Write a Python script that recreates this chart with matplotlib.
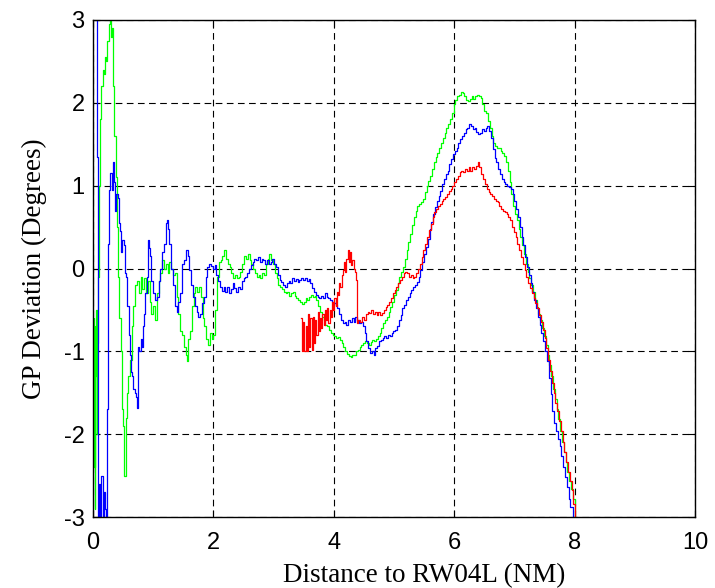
import matplotlib
matplotlib.use("Agg")
import matplotlib.pyplot as plt

# ---------------- data ----------------
green_x = [0.00, 0.01, 0.02, 0.025, 0.03, 0.04, 0.05, 0.06, 0.07, 0.08, 0.10, 0.12, 0.14, 0.16, 0.18,
           0.20, 0.22, 0.24, 0.26, 0.28, 0.30, 0.32, 0.33, 0.35, 0.38, 0.40, 0.42, 0.44, 0.46, 0.48,
           0.50, 0.52, 0.54, 0.56, 0.58, 0.61, 0.64, 0.67, 0.70, 0.73, 0.76, 0.79, 0.82, 0.85, 0.88,
           0.91, 0.94, 0.97, 1.00, 1.03, 1.06, 1.09, 1.12, 1.15, 1.18, 1.21, 1.24, 1.27, 1.30, 1.33,
           1.36, 1.39, 1.42, 1.45, 1.48, 1.51, 1.54, 1.56, 1.58, 1.61, 1.64, 1.67, 1.70, 1.73, 1.76,
           1.79, 1.82, 1.85, 1.88, 1.91, 1.94, 1.97, 2.00, 2.03, 2.06, 2.09, 2.12, 2.15, 2.18, 2.21,
           2.24, 2.27, 2.30, 2.33, 2.36, 2.39, 2.42, 2.45, 2.48, 2.51, 2.54, 2.57, 2.60, 2.63, 2.66,
           2.69, 2.72, 2.75, 2.78, 2.81, 2.84, 2.87, 2.90, 2.93, 2.96, 2.99, 3.02, 3.05, 3.08, 3.11,
           3.14, 3.17, 3.20, 3.23, 3.26, 3.29, 3.32, 3.35, 3.38, 3.41, 3.44, 3.47, 3.50, 3.53, 3.56,
           3.59, 3.62, 3.65, 3.68, 3.71, 3.74, 3.77, 3.80, 3.83, 3.86, 3.89, 3.92, 3.95, 3.98, 4.01,
           4.04, 4.07, 4.10, 4.13, 4.16, 4.19, 4.22, 4.25, 4.28, 4.31, 4.34, 4.37, 4.40, 4.43, 4.46,
           4.49, 4.52, 4.55, 4.58, 4.61, 4.64, 4.67, 4.70, 4.73, 4.76, 4.79, 4.82, 4.85, 4.88, 4.91,
           4.94, 4.97, 5.00, 5.03, 5.06, 5.09, 5.12, 5.15, 5.18, 5.21, 5.24, 5.27, 5.30, 5.33, 5.36,
           5.39, 5.42, 5.45, 5.48, 5.51, 5.54, 5.57, 5.60, 5.63, 5.66, 5.69, 5.72, 5.75, 5.78, 5.81,
           5.84, 5.87, 5.90, 5.93, 5.96, 5.99, 6.02, 6.05, 6.08, 6.11, 6.14, 6.17, 6.20, 6.23, 6.26,
           6.29, 6.32, 6.35, 6.38, 6.41, 6.44, 6.47, 6.50, 6.53, 6.56, 6.59, 6.62, 6.65, 6.68, 6.71,
           6.74, 6.77, 6.80, 6.83, 6.86, 6.89, 6.92, 6.95, 6.98, 7.01, 7.04, 7.07, 7.10, 7.13, 7.16,
           7.19, 7.22, 7.25, 7.28, 7.31, 7.34, 7.37, 7.40, 7.43, 7.46, 7.49, 7.52, 7.55, 7.58, 7.61,
           7.64, 7.67, 7.70, 7.73, 7.76, 7.79, 7.82, 7.85, 7.88, 7.91, 7.94, 7.97, 8.00]
green_y = [-0.60, -1.20, -2.40, -0.70, -2.90, -1.30, -0.50, -2.00, -0.90, -0.10, 1.00, 1.80, 2.20, 2.40, 2.35,
           2.55, 2.50, 2.75, 2.95, 3.10, 2.80, 2.90, 2.20, 1.60, 1.10, 0.50, -0.10, -0.60, -1.00, -1.70,
           -1.90, -2.50, -1.80, -1.50, -1.30, -1.10, -0.70, -0.45, -0.20, -0.15, -0.30, -0.10, -0.25, -0.12, -0.30,
           -0.15, -0.40, -0.55, -0.45, -0.62, -0.30, -0.15, -0.05, 0.10, 0.00, 0.05, -0.05, 0.08, 0.00, -0.08,
           -0.05, -0.35, -0.55, -0.75, -0.80, -0.95, -1.05, -1.12, -0.85, -0.75, -0.45, -0.30, -0.22, -0.28, -0.22,
           -0.35, -0.60, -0.70, -0.85, -0.92, -0.78, -0.85, -0.80, -0.50, -0.10, 0.08, 0.10, 0.15, 0.22, 0.12,
           0.05, 0.02, -0.05, -0.12, -0.08, -0.12, -0.10, -0.04, 0.05, 0.15, 0.12, 0.18, 0.10, 0.05, 0.00,
           -0.05, -0.10, -0.08, -0.12, -0.05, -0.08, 0.05, 0.12, 0.18, 0.10, 0.05, -0.05, -0.12, -0.20, -0.22,
           -0.25, -0.28, -0.30, -0.28, -0.33, -0.30, -0.28, -0.33, -0.36, -0.38, -0.40, -0.43, -0.40, -0.36, -0.38,
           -0.34, -0.32, -0.35, -0.33, -0.38, -0.45, -0.52, -0.58, -0.62, -0.68, -0.70, -0.74, -0.78, -0.80, -0.82,
           -0.84, -0.83, -0.86, -0.90, -0.95, -1.00, -1.03, -1.06, -1.07, -1.04, -1.05, -1.00, -0.98, -0.95, -0.92,
           -0.90, -0.88, -0.90, -0.92, -0.89, -0.86, -0.88, -0.85, -0.82, -0.78, -0.72, -0.66, -0.62, -0.58, -0.52,
           -0.46, -0.40, -0.32, -0.26, -0.18, -0.10, -0.04, 0.02, 0.12, 0.22, 0.32, 0.42, 0.52, 0.62, 0.70,
           0.76, 0.78, 0.80, 0.84, 0.92, 1.00, 1.06, 1.12, 1.20, 1.28, 1.35, 1.40, 1.46, 1.52, 1.58,
           1.64, 1.70, 1.75, 1.80, 1.88, 1.98, 2.04, 2.08, 2.10, 2.13, 2.12, 2.08, 2.04, 2.02, 2.05,
           2.08, 2.05, 2.08, 2.10, 2.08, 2.06, 1.98, 1.90, 1.88, 1.78, 1.70, 1.60, 1.52, 1.48, 1.46,
           1.45, 1.42, 1.40, 1.36, 1.28, 1.18, 1.05, 0.90, 0.76, 0.66, 0.58, 0.48, 0.38, 0.28, 0.18,
           0.06, -0.04, -0.12, -0.20, -0.28, -0.38, -0.46, -0.55, -0.62, -0.72, -0.82, -0.92, -1.04, -1.16, -1.30,
           -1.45, -1.58, -1.70, -1.82, -1.96, -2.10, -2.22, -2.34, -2.46, -2.56, -2.66, -2.78, -3.00]

blue_x = [0.05, 0.06, 0.065, 0.075, 0.08, 0.10, 0.12, 0.14, 0.16, 0.18, 0.20, 0.22, 0.24, 0.25, 0.26,
          0.27, 0.29, 0.31, 0.33, 0.35, 0.37, 0.39, 0.41, 0.43, 0.45, 0.47, 0.49, 0.51, 0.53, 0.55,
          0.57, 0.59, 0.61, 0.63, 0.65, 0.67, 0.69, 0.71, 0.73, 0.75, 0.77, 0.79, 0.81, 0.83, 0.85,
          0.87, 0.89, 0.91, 0.93, 0.95, 0.97, 1.00, 1.03, 1.06, 1.09, 1.12, 1.15, 1.18, 1.21, 1.23,
          1.25, 1.27, 1.30, 1.33, 1.36, 1.39, 1.42, 1.45, 1.48, 1.51, 1.54, 1.57, 1.60, 1.63, 1.66,
          1.69, 1.72, 1.75, 1.78, 1.81, 1.84, 1.87, 1.90, 1.93, 1.96, 1.99, 2.02, 2.05, 2.08, 2.11,
          2.14, 2.17, 2.20, 2.23, 2.26, 2.29, 2.32, 2.35, 2.38, 2.41, 2.44, 2.47, 2.50, 2.53, 2.56,
          2.59, 2.62, 2.65, 2.68, 2.71, 2.74, 2.77, 2.80, 2.83, 2.86, 2.89, 2.92, 2.95, 2.98, 3.01,
          3.04, 3.07, 3.10, 3.13, 3.16, 3.19, 3.22, 3.25, 3.28, 3.31, 3.34, 3.37, 3.40, 3.43, 3.46,
          3.49, 3.52, 3.55, 3.58, 3.61, 3.64, 3.67, 3.70, 3.73, 3.76, 3.79, 3.82, 3.85, 3.88, 3.91,
          3.94, 3.97, 4.00, 4.03, 4.06, 4.09, 4.12, 4.15, 4.18, 4.21, 4.24, 4.27, 4.30, 4.33, 4.36,
          4.39, 4.42, 4.45, 4.48, 4.51, 4.54, 4.57, 4.60, 4.63, 4.66, 4.69, 4.72, 4.75, 4.78, 4.81,
          4.84, 4.87, 4.90, 4.93, 4.96, 4.99, 5.02, 5.05, 5.08, 5.11, 5.14, 5.17, 5.20, 5.23, 5.26,
          5.29, 5.32, 5.35, 5.38, 5.41, 5.44, 5.47, 5.50, 5.53, 5.56, 5.59, 5.62, 5.65, 5.68, 5.71,
          5.74, 5.77, 5.80, 5.83, 5.86, 5.89, 5.92, 5.95, 5.98, 6.01, 6.04, 6.07, 6.10, 6.13, 6.16,
          6.19, 6.22, 6.25, 6.28, 6.31, 6.34, 6.37, 6.40, 6.43, 6.46, 6.49, 6.52, 6.55, 6.58, 6.61,
          6.64, 6.67, 6.70, 6.73, 6.76, 6.79, 6.82, 6.85, 6.88, 6.91, 6.94, 6.97, 7.00, 7.03, 7.06,
          7.09, 7.12, 7.15, 7.18, 7.21, 7.24, 7.27, 7.30, 7.33, 7.36, 7.39, 7.42, 7.45, 7.48, 7.51,
          7.54, 7.57, 7.60, 7.63, 7.66, 7.69, 7.72, 7.75, 7.78, 7.81, 7.84, 7.87, 7.90, 7.93, 7.97]
blue_y = [3.50, 3.50, 1.35, 1.15, -3.50, -2.60, -3.20, -2.50, -3.20, -2.70, -2.90, -3.20, -1.70, 0.30, 0.80,
          0.95, 1.15, 0.95, 1.28, 1.05, 0.70, 0.90, 0.85, 0.55, 0.45, 0.20, 0.35, 0.28, -0.05, -0.10,
          -0.45, -0.80, -1.05, -1.25, -1.30, -1.45, -1.50, -1.55, -1.68, -0.95, -1.00, -0.85, -0.95, -0.70, -0.55,
          -0.30, -0.10, 0.35, 0.25, 0.15, -0.15, -0.30, -0.38, -0.35, -0.15, 0.00, 0.20, 0.30, 0.55, 0.58,
          0.48, 0.30, 0.00, -0.20, -0.45, -0.52, -0.40, -0.30, 0.05, 0.10, 0.22, 0.15, -0.02, -0.20, -0.35,
          -0.45, -0.52, -0.58, -0.55, -0.42, -0.35, -0.10, 0.02, 0.06, 0.03, 0.00, 0.04, -0.08, -0.15, -0.22,
          -0.27, -0.22, -0.28, -0.22, -0.30, -0.25, -0.18, -0.24, -0.28, -0.22, -0.25, -0.15, -0.12, -0.10, -0.05,
          0.00, 0.04, 0.08, 0.12, 0.10, 0.14, 0.08, 0.12, 0.10, 0.06, 0.10, 0.05, 0.08, 0.12, 0.06,
          0.02, -0.08, -0.14, -0.16, -0.20, -0.22, -0.18, -0.15, -0.17, -0.12, -0.15, -0.13, -0.16, -0.14, -0.12,
          -0.14, -0.12, -0.15, -0.13, -0.18, -0.24, -0.28, -0.32, -0.34, -0.36, -0.33, -0.36, -0.30, -0.34, -0.36,
          -0.38, -0.40, -0.42, -0.44, -0.48, -0.55, -0.62, -0.66, -0.64, -0.68, -0.62, -0.64, -0.60, -0.64, -0.58,
          -0.62, -0.66, -0.64, -0.70, -0.78, -0.88, -0.96, -1.02, -1.00, -1.04, -0.96, -0.94, -0.88, -0.86, -0.84,
          -0.82, -0.84, -0.80, -0.82, -0.78, -0.76, -0.74, -0.70, -0.62, -0.56, -0.48, -0.44, -0.38, -0.34, -0.30,
          -0.26, -0.22, -0.20, -0.16, -0.10, -0.02, 0.08, 0.18, 0.26, 0.36, 0.48, 0.56, 0.66, 0.74, 0.82,
          0.88, 0.94, 1.02, 1.08, 1.14, 1.18, 1.26, 1.32, 1.38, 1.42, 1.46, 1.52, 1.56, 1.60, 1.64,
          1.68, 1.70, 1.75, 1.72, 1.68, 1.70, 1.65, 1.62, 1.64, 1.68, 1.66, 1.70, 1.72, 1.66, 1.58,
          1.44, 1.34, 1.28, 1.20, 1.14, 1.08, 1.05, 1.02, 1.00, 0.98, 0.96, 0.90, 0.82, 0.72, 0.62,
          0.50, 0.38, 0.28, 0.14, 0.02, -0.08, -0.18, -0.28, -0.38, -0.48, -0.58, -0.68, -0.78, -0.88, -1.00,
          -1.12, -1.32, -1.52, -1.72, -1.86, -1.96, -2.06, -2.14, -2.26, -2.40, -2.52, -2.64, -2.78, -2.88, -3.00]

red_x = [3.45, 3.47, 3.49, 3.51, 3.53, 3.55, 3.57, 3.59, 3.61, 3.63, 3.65, 3.67, 3.69, 3.71, 3.73,
         3.75, 3.77, 3.79, 3.81, 3.83, 3.85, 3.87, 3.89, 3.91, 3.93, 3.95, 3.97, 3.99, 4.01, 4.03,
         4.05, 4.07, 4.09, 4.11, 4.13, 4.15, 4.17, 4.19, 4.21, 4.23, 4.25, 4.27, 4.29, 4.31, 4.33,
         4.35, 4.37, 4.39, 4.41, 4.44, 4.47, 4.50, 4.53, 4.56, 4.59, 4.62, 4.65, 4.68, 4.71, 4.74,
         4.77, 4.80, 4.83, 4.86, 4.89, 4.92, 4.95, 4.98, 5.01, 5.04, 5.07, 5.10, 5.13, 5.16, 5.19,
         5.22, 5.25, 5.28, 5.31, 5.34, 5.37, 5.40, 5.43, 5.46, 5.49, 5.52, 5.55, 5.58, 5.61, 5.64,
         5.67, 5.70, 5.73, 5.76, 5.79, 5.82, 5.85, 5.88, 5.91, 5.94, 5.97, 6.00, 6.03, 6.06, 6.09,
         6.12, 6.15, 6.18, 6.21, 6.24, 6.27, 6.30, 6.33, 6.36, 6.39, 6.42, 6.45, 6.48, 6.51, 6.54,
         6.57, 6.60, 6.63, 6.66, 6.69, 6.72, 6.75, 6.78, 6.81, 6.84, 6.87, 6.90, 6.93, 6.96, 6.99,
         7.02, 7.05, 7.08, 7.11, 7.14, 7.17, 7.20, 7.23, 7.26, 7.29, 7.32, 7.35, 7.38, 7.41, 7.44,
         7.47, 7.50, 7.53, 7.56, 7.59, 7.62, 7.65, 7.68, 7.71, 7.74, 7.77, 7.80, 7.83, 7.86, 7.89,
         7.92, 7.95, 7.98, 8.01]
red_y = [-0.60, -1.00, -0.65, -1.00, -0.70, -1.00, -0.55, -0.95, -0.60, -0.98, -0.58, -0.90, -0.62, -0.80, -0.52,
         -0.76, -0.60, -0.72, -0.55, -0.68, -0.50, -0.62, -0.48, -0.66, -0.50, -0.58, -0.40, -0.50, -0.36, -0.45,
         -0.28, -0.32, -0.18, -0.22, -0.08, -0.02, 0.08, -0.04, 0.12, 0.22, 0.08, 0.20, 0.04, 0.10, 0.00,
         -0.04, -0.14, -0.66, -0.62, -0.65, -0.58, -0.62, -0.55, -0.52, -0.54, -0.50, -0.55, -0.52, -0.56, -0.52,
         -0.56, -0.54, -0.50, -0.46, -0.44, -0.40, -0.36, -0.30, -0.26, -0.22, -0.18, -0.14, -0.10, -0.06, -0.04,
         -0.06, -0.10, -0.08, -0.12, -0.10, -0.06, 0.00, 0.06, 0.14, 0.22, 0.30, 0.38, 0.46, 0.54, 0.62,
         0.68, 0.72, 0.76, 0.78, 0.82, 0.84, 0.86, 0.90, 0.94, 0.96, 1.00, 1.04, 1.08, 1.12, 1.16,
         1.18, 1.16, 1.20, 1.18, 1.22, 1.18, 1.22, 1.20, 1.24, 1.28, 1.22, 1.14, 1.08, 1.02, 0.96,
         0.92, 0.90, 0.88, 0.84, 0.82, 0.80, 0.76, 0.72, 0.70, 0.68, 0.66, 0.62, 0.58, 0.50, 0.44,
         0.38, 0.30, 0.22, 0.14, 0.06, -0.02, -0.10, -0.18, -0.24, -0.30, -0.36, -0.42, -0.48, -0.56, -0.64,
         -0.74, -0.84, -0.96, -1.10, -1.24, -1.38, -1.50, -1.62, -1.72, -1.84, -1.96, -2.10, -2.22, -2.34, -2.46,
         -2.56, -2.68, -2.84, -3.00]

x_ticks = [0, 2, 4, 6, 8, 10]
y_ticks = [-3, -2, -1, 0, 1, 2, 3]
x_label = "Distance to RW04L (NM)"
y_label = "GP Deviation (Degrees)"

# ---------------- figure ----------------
fig = plt.figure(figsize=(7.15, 5.88), dpi=100)
ax = fig.add_axes([93 / 715, 71 / 588, 602 / 715, 497 / 588])

ax.plot(green_x, green_y, color=(0, 1, 0), lw=0.9, drawstyle="steps-post")
ax.plot(blue_x, blue_y, color=(0, 0, 1), lw=0.9, drawstyle="steps-post")
ax.plot(red_x, red_y, color=(1, 0, 0), lw=0.9, drawstyle="steps-post")

ax.set_xlim(0, 10)
ax.set_ylim(-3, 3)
ax.set_xticks(x_ticks)
ax.set_yticks(y_ticks)
ax.set_xticklabels([str(v) for v in x_ticks], family="Liberation Sans", fontsize=17)
ax.set_yticklabels([str(v) for v in y_ticks], family="Liberation Sans", fontsize=17)
ax.tick_params(axis="x", direction="in", top=True, length=5, width=0.8, pad=11)
ax.tick_params(axis="y", direction="in", right=True, length=5, width=0.8, pad=6)
ax.grid(True, color="black", linestyle=(0, (6, 4)), linewidth=0.8)
for s in ax.spines.values():
    s.set_linewidth(1.0)

ax.set_xlabel(x_label, family="Liberation Serif", fontsize=19.5)
ax.xaxis.label.set_va("baseline")
ax.xaxis.set_label_coords((424 - 93) / 602, (517 - 582) / 497)
ax.set_ylabel(y_label, family="Liberation Serif", fontsize=19.5, labelpad=12)

fig.savefig("out.png", dpi=100)
